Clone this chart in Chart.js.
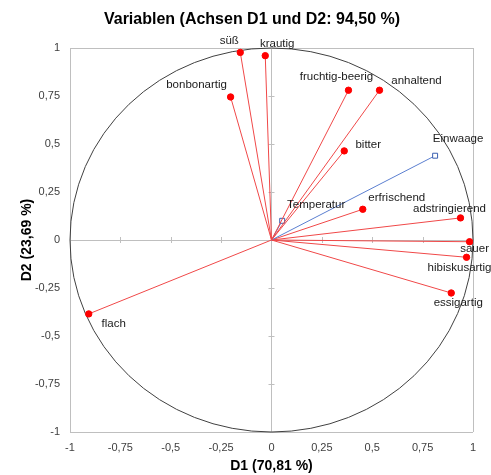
<!DOCTYPE html>
<html>
<head>
<meta charset="utf-8">
<script src="https://cdn.jsdelivr.net/npm/chart.js@4"></script>
<style>
  html, body { margin: 0; padding: 0; background: #fff; }
  #wrap { width: 491px; height: 475px; }
</style>
</head>
<body>
<div id="wrap"><canvas id="chart" width="491" height="475"></canvas></div>
<script>
// Variables and their coordinates on D1 / D2
const variables = ['süß', 'krautig', 'bonbonartig', 'fruchtig-beerig', 'anhaltend', 'bitter',
    'Einwaage', 'Temperatur', 'erfrischend', 'adstringierend', 'sauer', 'hibiskusartig',
    'essigartig', 'flach'];
const d1 = [-0.155, -0.031, -0.203, 0.382, 0.536, 0.361, 0.812, 0.053, 0.453, 0.938, 0.983, 0.968, 0.892, -0.907];
const d2 = [0.977, 0.960, 0.745, 0.780, 0.780, 0.464, 0.439, 0.100, 0.160, 0.115, -0.009, -0.090, -0.276, -0.385];
// supplementary variables (blue squares)
const supplementary = ['Einwaage', 'Temperatur'];
const tickValues = [-1, -0.75, -0.5, -0.25, 0, 0.25, 0.5, 0.75, 1];

// label placement relative to the point (px)
const labelOffsets = {
    'süß': [-11, -12], 'krautig': [12, -12], 'bonbonartig': [-34, -12],
    'fruchtig-beerig': [-12, -13], 'anhaltend': [37, -9], 'bitter': [24, -6],
    'Einwaage': [23, -17], 'Temperatur': [34, -16], 'erfrischend': [34, -11],
    'adstringierend': [-11, -9], 'sauer': [5, 7], 'hibiskusartig': [-7, 11],
    'essigartig': [7, 10], 'flach': [25, 10]
};

const fmt = v => String(v).replace('.', ',');
const FONT = 'Liberation Sans, Arial, sans-serif';

const datasets = variables.map((name, i) => {
    const supp = supplementary.includes(name);
    return {
        label: name,
        data: [{ x: 0, y: 0 }, { x: d1[i], y: d2[i] }],
        showLine: true,
        borderColor: supp ? '#5b7fd0' : '#f04848',
        borderWidth: 1,
        pointRadius: [0, supp ? 3.5 : 3.2],
        pointStyle: supp ? 'rect' : 'circle',
        pointBackgroundColor: supp ? '#ffffff' : '#ff0000',
        pointBorderColor: supp ? '#3a5fb0' : '#ff0000',
        pointBorderWidth: 1
    };
});

// unit circle and small tick marks on the zero axes
const circlePlugin = {
    id: 'circle',
    beforeDatasetsDraw(chart) {
        const { ctx, scales: { x, y } } = chart;
        const cx = x.getPixelForValue(0), cy = y.getPixelForValue(0);
        const rx = x.getPixelForValue(1) - cx, ry = cy - y.getPixelForValue(1);
        ctx.save();
        ctx.strokeStyle = '#bfbfbf';
        ctx.lineWidth = 1;
        ctx.beginPath();
        tickValues.forEach(v => {
            if (v === 0 || Math.abs(v) === 1) return;
            const px = Math.round(x.getPixelForValue(v)) + 0.5;
            const py = Math.round(y.getPixelForValue(v)) + 0.5;
            ctx.moveTo(px, cy - 3); ctx.lineTo(px, cy + 3);
            ctx.moveTo(cx - 3, py); ctx.lineTo(cx + 3, py);
        });
        ctx.stroke();
        ctx.strokeStyle = '#404040';
        ctx.beginPath();
        ctx.ellipse(cx, cy, rx, ry, 0, 0, Math.PI * 2);
        ctx.stroke();
        ctx.restore();
    }
};

const labelPlugin = {
    id: 'pointLabels',
    afterDatasetsDraw(chart) {
        const ctx = chart.ctx;
        ctx.save();
        ctx.font = '11.5px "Liberation Sans", Arial, sans-serif';
        ctx.fillStyle = '#1a1a1a';
        ctx.textAlign = 'center';
        ctx.textBaseline = 'middle';
        chart.data.datasets.forEach((ds, i) => {
            const pt = chart.getDatasetMeta(i).data[1];
            const off = labelOffsets[ds.label] || [0, -10];
            ctx.fillText(ds.label, pt.x + off[0], pt.y + off[1]);
        });
        ctx.restore();
    }
};

const gridColor = ctx => {
    const v = ctx.tick ? ctx.tick.value : null;
    return (v === 0 || v === 1 || v === -1) ? '#bfbfbf' : 'rgba(0,0,0,0)';
};

new Chart(document.getElementById('chart'), {
    type: 'scatter',
    data: { datasets },
    options: {
        responsive: false,
        animation: false,
        layout: { padding: { left: 13, right: 0, top: 0, bottom: 0 } },
        plugins: {
            legend: { display: false },
            tooltip: { enabled: false },
            title: {
                display: true,
                text: 'Variablen (Achsen D1 und D2: 94,50 %)',
                color: '#000',
                font: { family: FONT, size: 16, weight: 'bold' },
                padding: { top: 10, bottom: 18.8 }
            }
        },
        scales: {
            x: {
                type: 'linear',
                min: -1, max: 1,
                afterFit: s => { s.height = 43; },
                afterBuildTicks: s => { s.ticks = tickValues.map(v => ({ value: v })); },
                grid: { color: gridColor, drawTicks: false, lineWidth: 1 },
                border: { display: false },
                ticks: {
                    padding: 9,
                    color: '#404040',
                    font: { family: FONT, size: 11 },
                    callback: v => fmt(v)
                },
                title: {
                    display: true,
                    text: 'D1 (70,81 %)',
                    color: '#000',
                    font: { family: FONT, size: 14, weight: 'bold' },
                    padding: { top: 0, bottom: 0 }
                }
            },
            y: {
                type: 'linear',
                min: -1, max: 1,
                afterFit: s => { s.width = 57; },
                afterBuildTicks: s => { s.ticks = tickValues.map(v => ({ value: v })); },
                grid: { color: gridColor, drawTicks: false, lineWidth: 1 },
                border: { display: false },
                ticks: {
                    padding: 10,
                    color: '#404040',
                    font: { family: FONT, size: 11 },
                    callback: v => fmt(v)
                },
                title: {
                    display: true,
                    text: 'D2 (23,69 %)',
                    color: '#000',
                    font: { family: FONT, size: 14, weight: 'bold' },
                    padding: { top: 6, bottom: 0 }
                }
            },
            // empty right-hand axis, only reserves the right margin
            yRight: {
                type: 'linear',
                position: 'right',
                min: -1, max: 1,
                afterFit: s => { s.width = 18; },
                grid: { display: false },
                border: { display: false },
                ticks: { display: false }
            }
        }
    },
    plugins: [circlePlugin, labelPlugin]
});
</script>
</body>
</html>
